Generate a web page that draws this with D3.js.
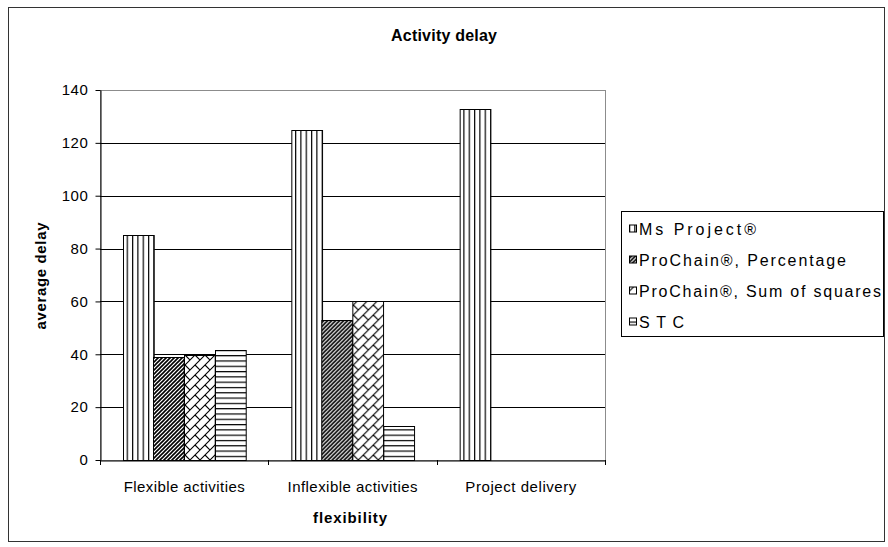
<!DOCTYPE html>
<html>
<head>
<meta charset="utf-8">
<script src="https://cdn.jsdelivr.net/npm/d3@7"></script>
<style>
  html, body { margin: 0; padding: 0; background: #fff; }
  svg { display: block; font-family: "Liberation Sans", Arial, sans-serif; }
</style>
</head>
<body>
<svg id="chart" width="888" height="547"></svg>
<script>
// Chart data
const categories = ["Flexible activities", "Inflexible activities", "Project delivery"];
const seriesNames = ["Ms Project®", "ProChain®, Percentage", "ProChain®, Sum of squares", "STC"];
const msProject   = [85, 125, 133];
const proChainPct = [39, 53, null];
const proChainSsq = [39.7, 60, null];
const stc         = [41.5, 13, null];
const yTicks = [0, 20, 40, 60, 80, 100, 120, 140];

const seriesValues = [msProject, proChainPct, proChainSsq, stc];
const patternIds = ["pVert", "pDiag", "pBrick", "pHoriz"];

const svg = d3.select("#chart");
const plot = { left: 100, right: 605, top: 90, bottom: 460 };

// Hatch fills
const defs = svg.append("defs");
function pattern(id, w, h, draw) {
  const p = defs.append("pattern").attr("id", id)
    .attr("patternUnits", "userSpaceOnUse").attr("width", w).attr("height", h);
  p.append("rect").attr("width", w).attr("height", h).attr("fill", "#fff");
  draw(p);
}
pattern("pVert", 5.33, 10, p => p.append("line")
  .attr("x1", 0.6).attr("x2", 0.6).attr("y1", 0).attr("y2", 10)
  .attr("stroke", "#000").attr("stroke-width", 1.2));
pattern("pHoriz", 10, 5.3, p => p.append("line")
  .attr("x1", 0).attr("x2", 10).attr("y1", 0.6).attr("y2", 0.6)
  .attr("stroke", "#000").attr("stroke-width", 1.2));
pattern("pDiag", 4, 4, p => p.append("path")
  .attr("d", "M-1,1 L1,-1 M0,4 L4,0 M3,5 L5,3")
  .attr("stroke", "#000").attr("stroke-width", 1.6));
pattern("pBrick", 10, 10, p => p.append("path")
  .attr("d", "M-1,11 L11,-1 M-1,1 L1,-1 M9,11 L11,9 M5,5 L10,10")
  .attr("stroke", "#000").attr("stroke-width", 1.1).attr("fill", "none"));

// Outer frame
svg.append("rect").attr("x", 8.5).attr("y", 7.5).attr("width", 876).attr("height", 534)
  .attr("fill", "#fff").attr("stroke", "#333").attr("stroke-width", 1);

// Scales
const y = d3.scaleLinear().domain([0, 140]).range([plot.bottom, plot.top]);
const x0 = d3.scaleBand().domain(categories).range([plot.left, plot.right]).padding(0);
const x1 = d3.scaleBand().domain(seriesNames).range([0, x0.bandwidth()])
  .paddingInner(0).paddingOuter(0.74);

// Plot area border and gridlines
svg.append("rect").attr("x", plot.left + 0.5).attr("y", plot.top + 0.5)
  .attr("width", plot.right - plot.left).attr("height", plot.bottom - plot.top)
  .attr("fill", "none").attr("stroke", "#8c8c8c").attr("stroke-width", 1);
svg.append("g").selectAll("line")
  .data(yTicks.filter(d => d > 0 && d < 140))
  .join("line")
  .attr("x1", plot.left).attr("x2", plot.right)
  .attr("y1", d => Math.round(y(d)) + 0.5).attr("y2", d => Math.round(y(d)) + 0.5)
  .attr("stroke", "#000").attr("stroke-width", 1);

// Bars
const groups = svg.append("g").selectAll("g")
  .data(categories)
  .join("g")
  .attr("transform", c => `translate(${x0(c)},0)`);
groups.selectAll("rect")
  .data((c, ci) => seriesNames.map((s, si) => ({ s, si, v: seriesValues[si][ci] }))
    .filter(d => d.v !== null))
  .join("rect")
  .attr("x", d => Math.round(x1(d.s)) + 0.5)
  .attr("y", d => Math.round(y(d.v)) + 0.5)
  .attr("width", x1.bandwidth())
  .attr("height", d => y(0) - Math.round(y(d.v)))
  .attr("fill", d => `url(#${patternIds[d.si]})`)
  .attr("stroke", "#000").attr("stroke-width", 1);

// Y axis
const yAxis = svg.append("g").attr("transform", `translate(${plot.left + 0.5},0)`)
  .call(d3.axisLeft(y).tickValues(yTicks).tickSize(5).tickSizeOuter(0).tickPadding(7));
yAxis.select(".domain").attr("stroke", "#000");
yAxis.selectAll(".tick line").attr("stroke", "#000");
yAxis.selectAll(".tick text").attr("font-size", 15).attr("fill", "#000")
  .attr("font-family", "Liberation Sans, Arial, sans-serif").attr("letter-spacing", 0.6);

// X axis: labels at category centers, ticks at category boundaries
const xAxis = svg.append("g").attr("transform", `translate(0,${plot.bottom + 0.5})`)
  .call(d3.axisBottom(x0).tickSize(0).tickSizeOuter(0).tickPadding(21));
xAxis.select(".domain").attr("stroke", "#000");
const catWidths = [121, 130, 111];
xAxis.selectAll(".tick text").attr("font-size", 15).attr("fill", "#000")
  .attr("font-family", "Liberation Sans, Arial, sans-serif")
  .attr("textLength", (d, i) => catWidths[i]).attr("lengthAdjust", "spacing");
const bounds = categories.map(c => x0(c)).concat([x0.range()[1]]);
svg.append("g").selectAll("line").data(bounds).join("line")
  .attr("x1", d => Math.round(d) + 0.5).attr("x2", d => Math.round(d) + 0.5)
  .attr("y1", plot.bottom).attr("y2", plot.bottom + 5)
  .attr("stroke", "#000");

// Titles
svg.append("text").attr("x", 444).attr("y", 41).attr("text-anchor", "middle")
  .attr("font-size", 16).attr("font-weight", "bold")
  .attr("textLength", 106).attr("lengthAdjust", "spacing")
  .text("Activity delay");
svg.append("text").attr("x", 350).attr("y", 523).attr("text-anchor", "middle")
  .attr("font-size", 15).attr("font-weight", "bold")
  .attr("textLength", 74).attr("lengthAdjust", "spacing")
  .text("flexibility");
svg.append("text").attr("transform", "translate(46,276) rotate(-90)")
  .attr("text-anchor", "middle").attr("font-size", 15).attr("font-weight", "bold")
  .attr("textLength", 107).attr("lengthAdjust", "spacing")
  .text("average delay");

// Legend
const legend = svg.append("g");
legend.append("rect").attr("x", 621.5).attr("y", 211.5).attr("width", 262).attr("height", 125)
  .attr("fill", "#fff").attr("stroke", "#000");
const legWidths = [117, 207, 242, 45];
const legItems = legend.selectAll("g").data(seriesNames).join("g")
  .attr("transform", (d, i) => `translate(0,${228.5 + i * 31})`);
legItems.append("rect").attr("x", 629.5).attr("y", -3.5).attr("width", 7).attr("height", 7)
  .attr("fill", (d, i) => `url(#${patternIds[i]})`).attr("stroke", "#000");
legItems.append("text").attr("x", 639).attr("y", 6)
  .attr("font-size", 16).attr("fill", "#000")
  .attr("textLength", (d, i) => legWidths[i]).attr("lengthAdjust", "spacing")
  .text(d => d);
</script>
</body>
</html>
